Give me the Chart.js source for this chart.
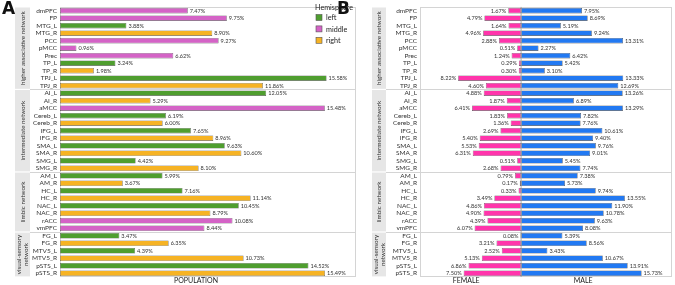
<!DOCTYPE html>
<html lang="en">
<head>
    <meta charset="UTF-8">
    <title>Regions by hemisphere and sex</title>
    <script src="https://cdn.jsdelivr.net/npm/chart.js"></script>
    <style>
        body { margin: 0; background: #fff; }
        .wrap { position: relative; width: 675px; height: 285px; }
        #chartA { position: absolute; left: 0; top: 0; }
        #chartB { position: absolute; left: 335px; top: 0; }
    </style>
</head>
<body>
<div class="wrap">
    <canvas id="chartA" width="360" height="285"></canvas>
    <canvas id="chartB" width="340" height="285"></canvas>
</div>

<script>
    // regions, top to bottom
    const regions = ['dmPFC', 'FP', 'MTG_L', 'MTG_R', 'PCC', 'pMCC', 'Prec', 'TP_L', 'TP_R', 'TPJ_L', 'TPJ_R',
        'AI_L', 'AI_R', 'aMCC', 'Cereb_L', 'Cereb_R', 'IFG_L', 'IFG_R', 'SMA_L', 'SMA_R', 'SMG_L', 'SMG_R',
        'AM_L', 'AM_R', 'HC_L', 'HC_R', 'NAC_L', 'NAC_R', 'rACC', 'vmPFC',
        'FG_L', 'FG_R', 'MTV5_L', 'MTV5_R', 'pSTS_L', 'pSTS_R'];

    const groupNames = [['higher associative network'], ['intermediate network'], ['limbic network'], ['visual-sensory', 'network']];
    const groupSizes = [11, 11, 8, 6];

    const hemisphere = ['middle', 'middle', 'left', 'right', 'middle', 'middle', 'middle', 'left', 'right', 'left', 'right',
        'left', 'right', 'middle', 'left', 'right', 'left', 'right', 'left', 'right', 'left', 'right',
        'left', 'right', 'left', 'right', 'left', 'right', 'middle', 'middle',
        'left', 'right', 'left', 'right', 'left', 'right'];

    const populationPct = [7.47, 9.75, 3.88, 8.90, 9.27, 0.96, 6.62, 3.24, 1.98, 15.58, 11.86,
        12.05, 5.29, 15.48, 6.19, 6.00, 7.65, 8.96, 9.63, 10.60, 4.42, 8.10,
        5.99, 3.67, 7.16, 11.14, 10.45, 8.79, 10.08, 8.44,
        3.47, 6.35, 4.39, 10.73, 14.52, 15.49];

    const femalePct = [1.67, 4.79, 1.64, 4.96, 2.88, 0.51, 1.24, 0.29, 0.30, 8.22, 4.60,
        4.88, 1.87, 6.41, 1.83, 1.36, 2.69, 5.40, 5.53, 6.31, 0.51, 2.68,
        0.79, 0.17, 0.33, 3.49, 4.86, 4.90, 4.39, 6.07,
        0.08, 3.21, 2.52, 5.13, 6.86, 7.50];

    const malePct = [7.95, 8.69, 5.19, 9.24, 13.31, 2.27, 6.42, 5.42, 3.10, 13.33, 12.69,
        13.26, 6.89, 13.29, 7.82, 7.76, 10.61, 9.40, 9.76, 9.01, 5.45, 7.74,
        7.38, 5.73, 9.74, 13.55, 11.90, 10.78, 9.63, 8.08,
        5.39, 8.56, 3.43, 10.67, 13.91, 15.73];

    const hemiLabels = ['left', 'middle', 'right'];
    const hemiColors = { left: '#4f9e2f', middle: '#d463c6', right: '#f6b324' };

    const FONT = 'Lato, "DejaVu Sans", sans-serif';
    const TEXT = '#333';
    const LINE = '#d4d4d4';

    // group strips on the left + separators + panel border
    function drawGroups(chart, bandX, bandW) {
        const ctx = chart.ctx, y = chart.scales.y, area = chart.chartArea;
        let start = 0;
        ctx.save();
        groupSizes.forEach((n, g) => {
            const first = start, last = start + n - 1;
            const top = first === 0 ? area.top : (y.getPixelForValue(first - 1) + y.getPixelForValue(first)) / 2;
            const bot = last === regions.length - 1 ? area.bottom : (y.getPixelForValue(last) + y.getPixelForValue(last + 1)) / 2;
            ctx.fillStyle = '#e6e6e6';
            ctx.fillRect(bandX, top + 0.6, bandW, bot - top - 1.2);

            ctx.save();
            ctx.translate(bandX + bandW / 2, (top + bot) / 2);
            ctx.rotate(-Math.PI / 2);
            ctx.fillStyle = TEXT;
            ctx.font = '6.3px ' + FONT;
            ctx.textAlign = 'center';
            ctx.textBaseline = 'middle';
            const lines = groupNames[g];
            lines.forEach((t, i) => ctx.fillText(t, 0, (i - (lines.length - 1) / 2) * 7));
            ctx.restore();

            if (g > 0) {
                ctx.strokeStyle = LINE;
                ctx.lineWidth = 1;
                ctx.beginPath();
                ctx.moveTo(bandX + bandW, Math.round(top) + 0.5);
                ctx.lineTo(area.right, Math.round(top) + 0.5);
                ctx.stroke();
            }
            start += n;
        });
        ctx.strokeStyle = LINE;
        ctx.lineWidth = 1;
        ctx.strokeRect(Math.round(area.left) + 0.5, Math.round(area.top) + 0.5,
            Math.round(area.right - area.left) - 1, Math.round(area.bottom - area.top) - 1);
        ctx.restore();
    }

    function panelLetter(ctx, letter, x) {
        ctx.save();
        ctx.fillStyle = '#111';
        ctx.font = 'bold 17px "DejaVu Sans", sans-serif';
        ctx.textBaseline = 'top';
        ctx.fillText(letter, x, 1);
        ctx.restore();
    }

    const yScale = (width) => ({
        grid: { display: false, drawTicks: false },
        border: { display: false },
        ticks: { color: TEXT, font: { family: FONT, size: 6.5 }, padding: 3, autoSkip: false },
        afterFit: (axis) => { axis.width = width; }
    });

    // ---- Panel A ----
    const panelA = {
        id: 'panelA',
        beforeDatasetsDraw(chart) {
            drawGroups(chart, 15, 15);
        },
        afterDatasetsDraw(chart) {
            const ctx = chart.ctx, area = chart.chartArea;
            ctx.save();
            ctx.font = '5.6px ' + FONT;
            ctx.fillStyle = TEXT;
            ctx.textBaseline = 'middle';
            ctx.textAlign = 'left';
            chart.getDatasetMeta(0).data.forEach((bar, i) => {
                ctx.fillText(populationPct[i].toFixed(2) + '%', bar.x + 2, bar.y + 0.3);
            });

            // legend
            const lx = area.right - 41;
            ctx.font = '7.2px ' + FONT;
            ctx.fillStyle = '#222';
            ctx.fillText('Hemisphere', lx, 7.5);
            hemiLabels.forEach((h, i) => {
                const cy = 17.5 + i * 11.4;
                ctx.fillStyle = hemiColors[h];
                ctx.fillRect(lx + 1, cy - 3, 6, 6);
                ctx.strokeStyle = '#555';
                ctx.lineWidth = 0.6;
                ctx.strokeRect(lx + 1, cy - 3, 6, 6);
                ctx.fillStyle = '#222';
                ctx.fillText(h, lx + 11, cy + 0.3);
            });

            ctx.font = '7px ' + FONT;
            ctx.textAlign = 'center';
            ctx.fillText('POPULATION', area.left + 136, 281);
            ctx.restore();
            panelLetter(ctx, 'A', 2);
        }
    };

    new Chart(document.getElementById('chartA'), {
        type: 'bar',
        data: {
            labels: regions,
            datasets: [{
                data: populationPct,
                backgroundColor: hemisphere.map(h => hemiColors[h]),
                borderColor: '#5a5a5a',
                borderWidth: 0.6,
                borderSkipped: false,
                barPercentage: 0.74,
                categoryPercentage: 1
            }]
        },
        options: {
            indexAxis: 'y',
            responsive: false,
            devicePixelRatio: 1,
            animation: false,
            layout: { padding: { left: 15, right: 4, top: 1, bottom: 8 } },
            plugins: { legend: { display: false }, tooltip: { enabled: false } },
            scales: {
                x: { display: false, min: 0, max: 17.3 },
                y: yScale(45)
            }
        },
        plugins: [panelA]
    });

    // ---- Panel B ----
    const panelB = {
        id: 'panelB',
        beforeDatasetsDraw(chart) {
            drawGroups(chart, 37, 14);
        },
        afterDatasetsDraw(chart) {
            const ctx = chart.ctx, area = chart.chartArea;
            const x0 = chart.scales.x.getPixelForValue(0);
            ctx.save();
            ctx.strokeStyle = '#9a9a9a';
            ctx.lineWidth = 0.8;
            ctx.beginPath();
            ctx.moveTo(x0, area.top);
            ctx.lineTo(x0, area.bottom);
            ctx.stroke();

            ctx.font = '5.6px ' + FONT;
            ctx.fillStyle = TEXT;
            ctx.textBaseline = 'middle';
            ctx.textAlign = 'right';
            chart.getDatasetMeta(0).data.forEach((bar, i) => {
                ctx.fillText(femalePct[i].toFixed(2) + '%', bar.x - 2, bar.y + 0.3);
            });
            ctx.textAlign = 'left';
            chart.getDatasetMeta(1).data.forEach((bar, i) => {
                ctx.fillText(malePct[i].toFixed(2) + '%', bar.x + 2, bar.y + 0.3);
            });

            ctx.font = '7px ' + FONT;
            ctx.fillStyle = '#222';
            ctx.textAlign = 'center';
            ctx.fillText('FEMALE', x0 - 55, 281);
            ctx.fillText('MALE', x0 + 62, 281);
            ctx.restore();
            panelLetter(ctx, 'B', 2);
        }
    };

    new Chart(document.getElementById('chartB'), {
        type: 'bar',
        data: {
            labels: regions,
            datasets: [{
                label: 'FEMALE',
                data: femalePct.map(v => -v),
                backgroundColor: '#ff35ab',
                borderColor: '#5a5a5a',
                borderWidth: 0.6,
                borderSkipped: false,
                barPercentage: 0.74,
                categoryPercentage: 1
            }, {
                label: 'MALE',
                data: malePct,
                backgroundColor: '#2279f2',
                borderColor: '#4a4a4a',
                borderWidth: 0.6,
                borderSkipped: false,
                barPercentage: 0.74,
                categoryPercentage: 1
            }]
        },
        options: {
            indexAxis: 'y',
            responsive: false,
            devicePixelRatio: 1,
            animation: false,
            layout: { padding: { left: 52, right: 3, top: 1, bottom: 8 } },
            plugins: { legend: { display: false }, tooltip: { enabled: false } },
            scales: {
                x: { display: false, stacked: true, min: -13.2, max: 19.7 },
                y: Object.assign(yScale(33), { stacked: true })
            }
        },
        plugins: [panelB]
    });
</script>
</body>
</html>
